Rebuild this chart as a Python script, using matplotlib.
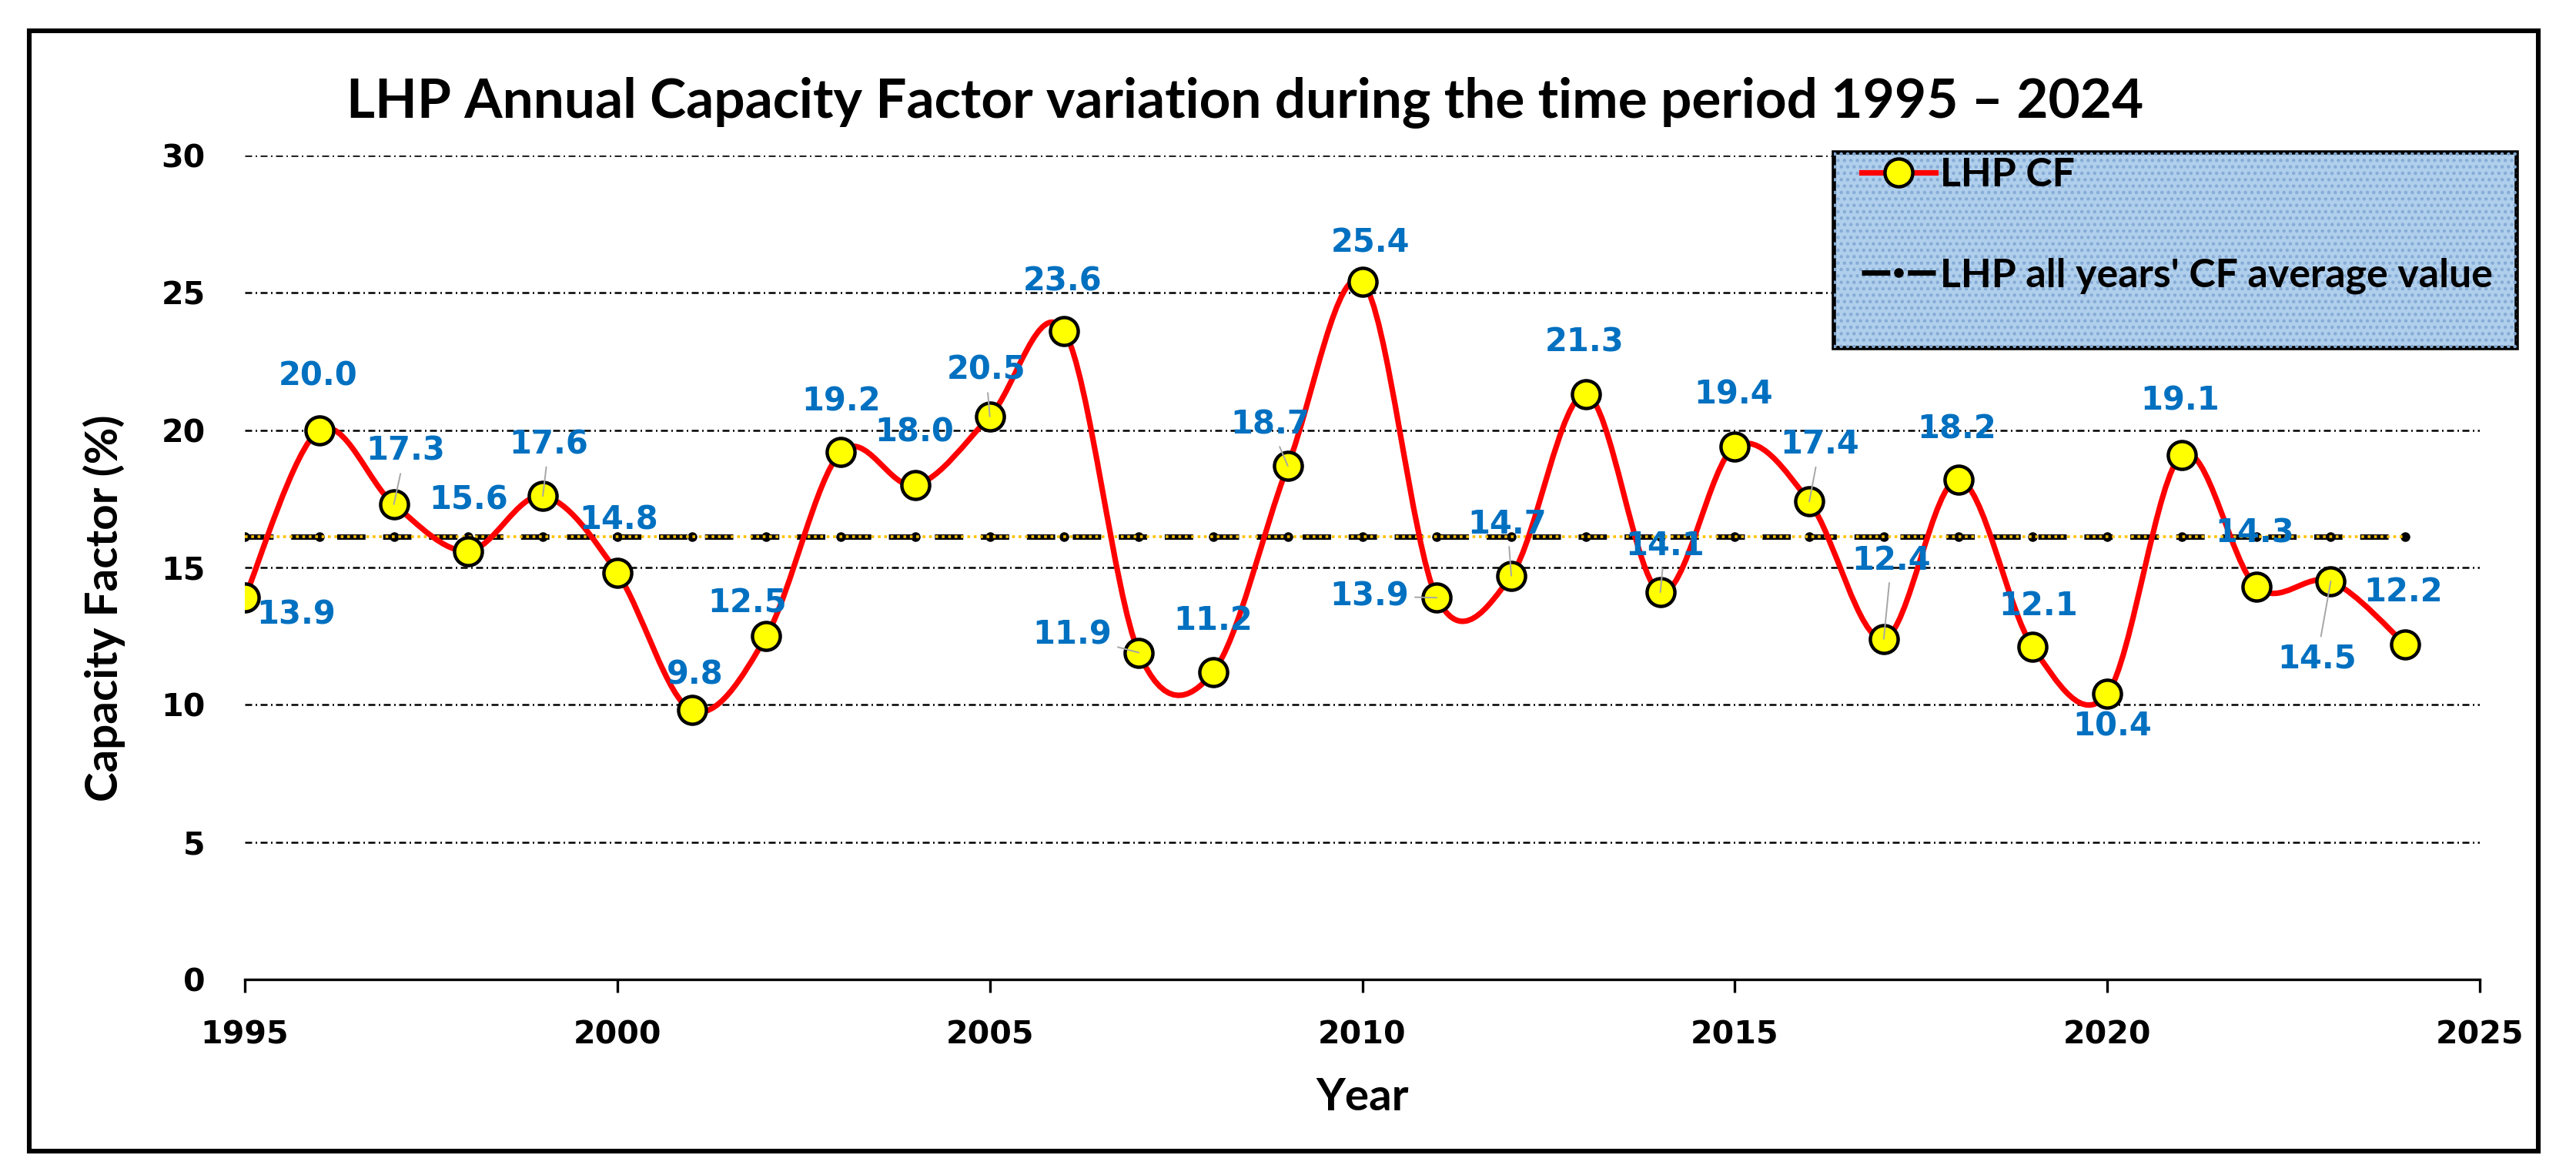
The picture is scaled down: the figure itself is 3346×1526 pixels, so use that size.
import numpy as np
import matplotlib
matplotlib.use("Agg")
import matplotlib.pyplot as plt
from matplotlib.path import Path
from matplotlib.patches import PathPatch, Rectangle
from matplotlib.lines import Line2D
from matplotlib.font_manager import FontProperties

# ---------------- data ----------------
years = list(range(1995, 2025))
cf = [13.9, 20.0, 17.3, 15.6, 17.6, 14.8, 9.8, 12.5, 19.2, 18.0,
      20.5, 23.6, 11.9, 11.2, 18.7, 25.4, 13.9, 14.7, 21.3, 14.1,
      19.4, 17.4, 12.4, 18.2, 12.1, 10.4, 19.1, 14.3, 14.5, 12.2]
avg_cf = 16.13
x_ticks = [1995, 2000, 2005, 2010, 2015, 2020, 2025]
y_ticks = [0, 5, 10, 15, 20, 25, 30]
title_text = "LHP Annual Capacity Factor variation during the time period 1995 \u2013 2024"
series_labels = ["LHP CF", "LHP all years' CF average value"]
x_label = "Year"
y_label = "Capacity Factor (%)"

# label placement (pixel offsets: right, down)
label_offsets_px = [(67, 22), (-2, -70), (15, -69), (0, -66), (8, -67), (2, -69),
                    (4, -46), (-25, -43), (0, -66), (-1, -68), (-5, -60), (-2, -65),
                    (-87, -23), (0, -67), (-23, -54), (10, -51), (-88, -2), (-5, -67),
                    (-2, -68), (6, -60), (-2, -68), (14, -74), (10, -102), (-2, -65),
                    (7, -53), (7, 42), (-2, -70), (-2, -69), (-18, 101), (-3, -68)]
leader_years = [1997, 1999, 2005, 2007, 2009, 2011, 2012, 2014, 2016, 2017, 2023]

# ---------------- figure ----------------
DPI = 200
W, H = 3346, 1526
fig = plt.figure(figsize=(W / DPI, H / DPI), dpi=DPI)
fig.patch.set_facecolor("white")

ax_l, ax_r, ax_t, ax_b = 318, 3221, 202, 1272
ax = fig.add_axes([ax_l / W, 1 - ax_b / H, (ax_r - ax_l) / W, (ax_b - ax_t) / H])
ax.set_xlim(1995, 2025)
ax.set_ylim(0, 30)

TITLE_FONT = "Lato"
NUM_FONT = "DejaVu Sans"

# grid
ax.set_axisbelow(True)
ax.yaxis.grid(True, color="black", lw=0.9, linestyle=(0, (3.6, 1.8, 0.8, 1.8)))
ax.xaxis.grid(False)

for s in ["left", "top", "right"]:
    ax.spines[s].set_visible(False)
ax.spines["bottom"].set_linewidth(1.2)
ax.spines["bottom"].set_zorder(3)

ax.set_xticks(x_ticks, labels=[str(t) for t in x_ticks],
              fontsize=14.8, fontweight="bold", family=NUM_FONT)
ax.set_yticks(y_ticks, labels=[str(t) for t in y_ticks],
              fontsize=14.8, fontweight="bold", family=NUM_FONT)
ax.tick_params(axis="x", direction="out", length=6, width=1.2, pad=13, color="black")
ax.tick_params(axis="y", length=0, pad=18.4)

# average line (black dashed with dots) + orange dotted overlay
ax.plot(years, [avg_cf] * len(years), color="black", lw=2.5, dashes=(5.3, 3.3),
        marker="o", ms=3.5, mfc="black", mec="black", zorder=3)
ax.plot(years, [avg_cf] * len(years), color="#FFC000", lw=1.3,
        linestyle=(0, (1, 1.3)), zorder=3.2)


# smoothed CF curve (Excel-like Catmull-Rom Bezier through the points)
def smooth_path(xs, ys):
    P = np.column_stack([xs, ys]).astype(float)
    n = len(P)
    verts = [P[0]]
    codes = [Path.MOVETO]
    for i in range(n - 1):
        p0 = P[max(i - 1, 0)]
        p1 = P[i]
        p2 = P[i + 1]
        p3 = P[min(i + 2, n - 1)]
        c1 = p1 + (p2 - p0) / 6.0
        c2 = p2 - (p3 - p1) / 6.0
        verts += [c1, c2, p2]
        codes += [Path.CURVE4] * 3
    return Path(verts, codes)


curve = PathPatch(smooth_path(years, cf), fill=False, edgecolor="#FF0000",
                  lw=2.6, capstyle="round", joinstyle="round", zorder=4)
ax.add_patch(curve)
ax.plot(years, cf, linestyle="none", marker="o", ms=13, mfc="#FFFF00",
        mec="black", mew=1.6, zorder=5)

# data labels
for yr, v, (dx, dy) in zip(years, cf, label_offsets_px):
    kw = {}
    if yr in leader_years:
        kw["arrowprops"] = dict(arrowstyle="-", color="#a6a6a6", lw=0.7,
                                shrinkA=1, shrinkB=0)
    ax.annotate(f"{v:.1f}", xy=(yr, v), xytext=(dx * 72 / DPI, -dy * 72 / DPI),
                textcoords="offset points", ha="center", va="center",
                fontsize=15, fontweight="bold", family=NUM_FONT,
                color="#0070C0", zorder=6, annotation_clip=False, **kw)

# axis labels
lab_font = FontProperties(family=TITLE_FONT, weight="bold", size=21)
ax.set_ylabel(y_label, fontproperties=lab_font)
ax.yaxis.set_label_coords((163 - ax_l) / (ax_r - ax_l), (ax_b - 790) / (ax_b - ax_t))
ax.set_xlabel(x_label, fontproperties=lab_font)
ax.xaxis.label.set_verticalalignment("center")
ax.xaxis.set_label_coords(0.5, (ax_b - 1425) / (ax_b - ax_t))

# title
fig.text(1617 / W, 1 - 153 / H, title_text, ha="center", va="baseline",
         fontsize=25.6, fontweight="bold", family=TITLE_FONT)

# legend box
def ax_x(px):
    return (px - ax_l) / (ax_r - ax_l)


def ax_y(py):
    return (ax_b - py) / (ax_b - ax_t)


lx0, lx1, ly0, ly1 = ax_x(2382), ax_x(3269), ax_y(452), ax_y(198)
ax.add_patch(Rectangle((lx0, ly0), lx1 - lx0, ly1 - ly0, transform=ax.transAxes,
                       facecolor="#b0cfec", edgecolor="black", lw=2.0,
                       clip_on=False, zorder=7))
ax.add_patch(Rectangle((lx0, ly0), lx1 - lx0, ly1 - ly0, transform=ax.transAxes,
                       fill=False, hatch="....", edgecolor="#86acd6", lw=0,
                       clip_on=False, zorder=7.1))

h1 = Line2D([], [], color="#FF0000", lw=2.6, marker="o", ms=13, mfc="#FFFF00",
            mec="black", mew=1.6)
h2 = Line2D([], [], color="black", lw=2.5, dashes=(5.3, 3.3), marker="o", ms=3.5,
            mfc="black", mec="black")
leg = ax.legend([h1, h2], series_labels, loc="upper left",
                bbox_to_anchor=(ax_x(2418), ax_y(204)), frameon=False,
                borderpad=0, borderaxespad=0, handlelength=1.85, handletextpad=0.12,
                labelspacing=1.6,
                prop=FontProperties(family=TITLE_FONT, weight="bold", size=18.7))
leg.set_zorder(8)

# outer frame
fig.add_artist(Rectangle((38 / W, 1 - 1495 / H), (3297 - 38) / W, (1495 - 40) / H,
                         transform=fig.transFigure, fill=False, lw=2.2,
                         edgecolor="black"))

fig.savefig("out.png", dpi=DPI)
